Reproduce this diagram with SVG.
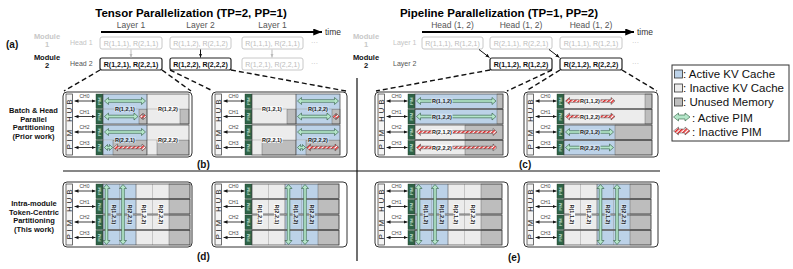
<svg xmlns="http://www.w3.org/2000/svg" width="793" height="269" viewBox="0 0 793 269">
<style>
text{font-family:"Liberation Sans",Arial,sans-serif}
.b{font-weight:bold}
.ml{font-size:5.5px;font-weight:bold;fill:#222;text-anchor:middle;dominant-baseline:central}
.bl{fill:#bcd2e8}
.lt{fill:#ececec}
.un{fill:#bdbdbd;stroke:#555;stroke-width:.4}
.og{fill:none;stroke:#444;stroke-width:.7}
.ga{fill:#b4e6c9;stroke:#2b5b3c;stroke-width:.6}
.ra{fill:url(#stripe);stroke:#444;stroke-width:.5}
.pn{fill:#fff;stroke:#333;stroke-width:1}
.lbB{fill:#cfe0f0}
.lbL{fill:#fafafa}
.bx1{fill:#fff;stroke:#c8c8c8;stroke-width:1}
.bx2{fill:#fff;stroke:#222;stroke-width:1.2}
.bt1{font-size:7px;fill:#bbb;text-anchor:middle}
.bt2{font-size:7px;fill:#111;font-weight:bold;text-anchor:middle}
.dash{fill:none;stroke:#111;stroke-width:1.4;stroke-dasharray:5 3}
.ch{font-size:5px;fill:#444;text-anchor:middle}
.pim{fill:#2f6447;stroke:#1c3a2a;stroke-width:.4}
.pt{font-size:4.3px;fill:#d9f2e2;text-anchor:middle;dominant-baseline:central}
.leg{font-size:11.5px;fill:#111}
.sm{font-size:7px}
.mod{font-size:7.5px;font-weight:bold;text-anchor:middle}
.tl{font-size:8.5px;fill:#555;text-anchor:middle}
.side{font-size:7.5px;font-weight:bold;fill:#111;text-anchor:middle}
.pl{font-size:10px;font-weight:bold;fill:#111}
</style>
<defs>
<pattern id="stripe" patternUnits="userSpaceOnUse" width="3" height="3" patternTransform="rotate(45)"><rect width="3" height="3" fill="#fff"/><rect width="1.6" height="3" fill="#e32626"/></pattern>
<marker id="ahs" viewBox="0 0 6 6" refX="6" refY="3" markerWidth="4" markerHeight="4" markerUnits="userSpaceOnUse" orient="auto-start-reverse"><path d="M0,0.5 L6,3 L0,5.5 z" fill="#111"/></marker>
<marker id="ahg" viewBox="0 0 6 6" refX="6" refY="3" markerWidth="4" markerHeight="4" markerUnits="userSpaceOnUse" orient="auto-start-reverse"><path d="M0,0.5 L6,3 L0,5.5 z" fill="#bbb"/></marker>
<marker id="aht" viewBox="0 0 10 8" refX="10" refY="4" markerWidth="9" markerHeight="7" markerUnits="userSpaceOnUse" orient="auto"><path d="M0,0 L10,4 L0,8 z" fill="#000"/></marker>
<g id="frame">
<rect x="3" y="2" width="6.5" height="61" fill="#f4f4f4" stroke="#333" stroke-width=".7"/>
<text transform="translate(8.9,32.5) rotate(-90)" text-anchor="middle" font-size="8" fill="#222" textLength="50" lengthAdjust="spacing">PIM HUB</text>
<line x1="11.5" y1="9" x2="32.5" y2="9" stroke="#111" stroke-width=".8" marker-start="url(#ahs)" marker-end="url(#ahs)"/>
<line x1="11.5" y1="24.5" x2="32.5" y2="24.5" stroke="#111" stroke-width=".8" marker-start="url(#ahs)" marker-end="url(#ahs)"/>
<line x1="11.5" y1="40" x2="32.5" y2="40" stroke="#111" stroke-width=".8" marker-start="url(#ahs)" marker-end="url(#ahs)"/>
<line x1="11.5" y1="55.5" x2="32.5" y2="55.5" stroke="#111" stroke-width=".8" marker-start="url(#ahs)" marker-end="url(#ahs)"/>
<text class="ch" x="21.5" y="6.3">CH0</text>
<text class="ch" x="21.5" y="21.8">CH1</text>
<text class="ch" x="21.5" y="37.3">CH2</text>
<text class="ch" x="21.5" y="52.8">CH3</text>
<rect class="pim" x="33" y="2" width="7" height="14.5"/>
<rect class="pim" x="33" y="17.5" width="7" height="14.5"/>
<rect class="pim" x="33" y="33" width="7" height="14.5"/>
<rect class="pim" x="33" y="48.5" width="7" height="14.5"/>
<text class="pt" transform="translate(36.5,9.25) rotate(-90)">PIM</text>
<text class="pt" transform="translate(36.5,24.75) rotate(-90)">PIM</text>
<text class="pt" transform="translate(36.5,40.25) rotate(-90)">PIM</text>
<text class="pt" transform="translate(36.5,55.75) rotate(-90)">PIM</text>
</g>
<g id="rowA"><rect class="bl" width="33" height="14.5"/><rect class="lt" x="33" width="33" height="14.5"/><rect class="un" x="66" width="21" height="14.5"/><path d="M16.5,0V14.5M49.5,0V14.5" stroke="#8a8a8a" stroke-width=".4"/><path d="M33,0V14.5" stroke="#555" stroke-width=".6"/><rect class="og" width="87" height="14.5"/></g>
<g id="rowB"><rect class="lt" width="33" height="14.5"/><rect class="bl" x="33" width="33" height="14.5"/><rect class="un" x="66" width="21" height="14.5"/><path d="M16.5,0V14.5M49.5,0V14.5" stroke="#8a8a8a" stroke-width=".4"/><path d="M33,0V14.5" stroke="#555" stroke-width=".6"/><rect class="og" width="87" height="14.5"/></g>
</defs>

<g id="titles">
<text x="191" y="16.5" class="b" font-size="11.5" text-anchor="middle">Tensor Parallelization (TP=2, PP=1)</text>
<text x="499" y="16.5" class="b" font-size="11.5" text-anchor="middle">Pipeline Parallelization (TP=1, PP=2)</text>
<text x="6" y="48" class="pl" font-size="11">(a)</text>
</g>

<g id="module-labels">
<text class="mod" x="47" y="38.5" fill="#c8c8c8">Module</text>
<text class="mod" x="47" y="47" fill="#c8c8c8">1</text>
<text class="mod" x="47" y="59.5" fill="#111">Module</text>
<text class="mod" x="47" y="67.5" fill="#111">2</text>
<text class="sm" x="70" y="44.5" fill="#c4c4c4">Head 1</text>
<text class="sm" x="70" y="65.5" fill="#555">Head 2</text>
<text class="mod" x="366" y="38.5" fill="#c8c8c8">Module</text>
<text class="mod" x="366" y="47" fill="#c8c8c8">1</text>
<text class="mod" x="366" y="59.5" fill="#111">Module</text>
<text class="mod" x="366" y="67.5" fill="#111">2</text>
<text class="sm" x="393" y="44.5" fill="#c4c4c4">Layer 1</text>
<text class="sm" x="393" y="65.5" fill="#555">Layer 2</text>
</g>

<g id="timeline-labels">
<text class="tl" x="131" y="28">Layer 1</text>
<text class="tl" x="200.5" y="28">Layer 2</text>
<text class="tl" x="272.5" y="28">Layer 1</text>
<text x="325" y="34.5" font-size="8.5" fill="#333">time</text>
<text class="tl" x="452.5" y="27.5" font-size="8">Head (1, 2)</text>
<text class="tl" x="521" y="27.5" font-size="8">Head (1, 2)</text>
<text class="tl" x="591" y="27.5" font-size="8">Head (1, 2)</text>
<text x="637" y="34.5" font-size="8.5" fill="#333">time</text>
</g>

<g id="tp-boxes">
<rect class="bx1" x="100" y="37" width="62" height="12" rx="2"/><text class="bt1" x="131" y="45.5">R(1,1,1), R(2,1,1)</text>
<rect class="bx1" x="170" y="37" width="61" height="12" rx="2"/><text class="bt1" x="200.5" y="45.5">R(1,1,2), R(2,1,2)</text>
<rect class="bx1" x="242" y="37" width="61" height="12" rx="2"/><text class="bt1" x="272.5" y="45.5">R(1,1,1), R(2,1,1)</text>
<rect class="bx2" x="100" y="58" width="62" height="12" rx="2"/><text class="bt2" x="131" y="66.5">R(1,2,1), R(2,2,1)</text>
<rect class="bx2" x="170" y="58" width="61" height="12" rx="2"/><text class="bt2" x="200.5" y="66.5">R(1,2,2), R(2,2,2)</text>
<rect class="bx1" x="242" y="58" width="61" height="12" rx="2"/><text class="bt1" x="272.5" y="66.5">R(1,2,1), R(2,2,1)</text>
<text x="311" y="45" font-size="7" fill="#bbb">···</text>
<text x="311" y="66" font-size="7" fill="#bbb">···</text>
</g>

<g id="pp-boxes">
<rect class="bx1" x="422" y="37" width="61" height="12" rx="2"/><text class="bt1" x="452.5" y="45.5">R(1,1,1), R(1,2,1)</text>
<rect class="bx1" x="490" y="37" width="62" height="12" rx="2"/><text class="bt1" x="521" y="45.5">R(2,1,1), R(2,2,1)</text>
<rect class="bx1" x="560" y="37" width="62" height="12" rx="2"/><text class="bt1" x="591" y="45.5">R(1,1,1), R(1,2,1)</text>
<rect class="bx2" x="490" y="58" width="62" height="12" rx="2"/><text class="bt2" x="521" y="66.5">R(1,1,2), R(1,2,2)</text>
<rect class="bx2" x="560" y="58" width="62" height="12" rx="2"/><text class="bt2" x="591" y="66.5">R(2,1,2), R(2,2,2)</text>
<text x="632" y="45" font-size="7" fill="#bbb">···</text>
<text x="632" y="66" font-size="7" fill="#bbb">···</text>
</g>

<g id="connectors">
<line x1="101" y1="32" x2="322" y2="32" stroke="#000" stroke-width="2" marker-end="url(#aht)"/>
<line x1="422" y1="32" x2="634" y2="32" stroke="#000" stroke-width="2" marker-end="url(#aht)"/>
<line x1="131" y1="49.5" x2="131" y2="57.5" stroke="#bbb" stroke-width="1" marker-end="url(#ahg)"/>
<line x1="200.5" y1="49.5" x2="200.5" y2="57.5" stroke="#111" stroke-width="1" marker-end="url(#ahs)"/>
<line x1="272" y1="49.5" x2="272" y2="57.5" stroke="#bbb" stroke-width="1" marker-end="url(#ahg)"/>
<line x1="479" y1="49.5" x2="489.5" y2="57.5" stroke="#111" stroke-width="1" marker-end="url(#ahs)"/>
<line x1="549" y1="49.5" x2="559.5" y2="57.5" stroke="#111" stroke-width="1" marker-end="url(#ahs)"/>
<path class="dash" d="M100,70 L64,91 M162,70 L191,91 M170,70 L213,91 M231,70 L346,91 M490,70 L376,91 M552,70 L507,91 M560,70 L526,91 M622,70 L657,91"/>
</g>

<g id="dividers">
<line x1="357" y1="78" x2="357" y2="261" stroke="#111" stroke-width="1.2"/>
<line x1="63" y1="171" x2="660" y2="171" stroke="#111" stroke-width="1.2"/>
</g>

<g id="side-labels">
<text class="side" x="33.5" y="113">Batch &amp; Head</text>
<text class="side" x="33.5" y="121.5">Parallel</text>
<text class="side" x="33.5" y="130">Partitioning</text>
<text class="side" x="33.5" y="138.5">(Prior work)</text>
<text class="side" x="34" y="206">Intra-module</text>
<text class="side" x="34" y="214.5">Token-Centric</text>
<text class="side" x="34" y="223">Partitioning</text>
<text class="side" x="34" y="231.5">(This work)</text>
<text class="pl" x="197" y="168">(b)</text>
<text class="pl" x="519" y="168">(c)</text>
<text class="pl" x="197" y="260">(d)</text>
<text class="pl" x="508" y="261">(e)</text>
</g>

<g id="panel-b1">
<rect class="pn" x="63" y="92" width="129" height="65" rx="4"/>
<use href="#frame" x="63" y="92"/>
<rect class="bl" x="103" y="94" width="44" height="30"/>
<rect class="lt" x="147" y="94" width="42" height="30"/>
<rect class="un" x="139" y="109.5" width="8" height="14.5"/>
<rect class="un" x="180" y="109.5" width="9" height="14.5"/>
<line x1="103" y1="109" x2="189" y2="109" stroke="#999" stroke-width=".5"/>
<line x1="147" y1="94" x2="147" y2="124" stroke="#444" stroke-width=".7"/>
<rect class="og" x="103" y="94" width="86" height="30"/>
<rect class="bl" x="103" y="125" width="44" height="15.5"/>
<rect class="bl" x="103" y="140.5" width="10" height="14.5"/>
<rect class="un" x="113" y="140.5" width="34" height="14.5"/>
<rect class="lt" x="147" y="125" width="42" height="15.5"/>
<rect class="lt" x="147" y="140.5" width="10" height="14.5"/>
<rect class="un" x="157" y="140.5" width="32" height="14.5"/>
<line x1="103" y1="140" x2="189" y2="140" stroke="#999" stroke-width=".5"/>
<line x1="147" y1="125" x2="147" y2="155" stroke="#444" stroke-width=".7"/>
<rect class="og" x="103" y="125" width="86" height="30"/>
<path class="ga" d="M104.5,101 L108.5,97.5 V99.7 H141.5 V97.5 L145.5,101 L141.5,104.5 V102.3 H108.5 V104.5 Z"/>
<path class="ga" d="M104.5,116.5 L108.5,113 V115.2 H134 V113 L138,116.5 L134,120 V117.8 H108.5 V120 Z"/>
<path class="ra" d="M139.5,116.5 L142.5,113.5 V115.5 H143.5 V113.5 L146.5,116.5 L143.5,119.5 V117.5 H142.5 V119.5 Z"/>
<path class="ga" d="M104.5,132 L108.5,128.5 V130.7 H141.5 V128.5 L145.5,132 L141.5,135.5 V133.3 H108.5 V135.5 Z"/>
<path class="ga" d="M104.5,147.5 L107.5,144.5 V146.3 H109.5 V144.5 L112.5,147.5 L109.5,150.5 V148.7 H107.5 V150.5 Z"/>
<path class="ra" d="M113.5,147.5 L117.5,144 V146.2 H142 V144 L146,147.5 L142,151 V148.8 H117.5 V151 Z"/>
<rect class="lbB" x="114.5" y="106.2" width="21" height="5.6"/><text class="ml" x="125" y="109">R(1,2,1)</text>
<rect class="lbL" x="157.5" y="106.2" width="21" height="5.6"/><text class="ml" x="168" y="109">R(1,2,2)</text>
<rect class="lbB" x="114.5" y="137.2" width="21" height="5.6"/><text class="ml" x="125" y="140">R(2,2,1)</text>
<rect class="lbL" x="157.5" y="137.2" width="21" height="5.6"/><text class="ml" x="168" y="140">R(2,2,2)</text>
</g>

<g id="panel-b2">
<rect class="pn" x="212" y="92" width="135" height="65" rx="4"/>
<use href="#frame" x="212" y="92"/>
<rect class="lt" x="252" y="94" width="44" height="30"/>
<rect class="bl" x="296" y="94" width="44" height="30"/>
<rect class="un" x="287" y="109.5" width="9" height="14.5"/>
<rect class="un" x="332" y="109.5" width="8" height="14.5"/>
<line x1="252" y1="109" x2="340" y2="109" stroke="#999" stroke-width=".5"/>
<line x1="296" y1="94" x2="296" y2="124" stroke="#444" stroke-width=".7"/>
<rect class="og" x="252" y="94" width="88" height="30"/>
<rect class="lt" x="252" y="125" width="44" height="15.5"/>
<rect class="lt" x="252" y="140.5" width="10" height="14.5"/>
<rect class="un" x="262" y="140.5" width="34" height="14.5"/>
<rect class="bl" x="296" y="125" width="44" height="15.5"/>
<rect class="bl" x="296" y="140.5" width="10" height="14.5"/>
<rect class="un" x="306" y="140.5" width="34" height="14.5"/>
<line x1="252" y1="140" x2="340" y2="140" stroke="#999" stroke-width=".5"/>
<line x1="296" y1="125" x2="296" y2="155" stroke="#444" stroke-width=".7"/>
<rect class="og" x="252" y="125" width="88" height="30"/>
<path class="ga" d="M297.5,101 L301.5,97.5 V99.7 H334.5 V97.5 L338.5,101 L334.5,104.5 V102.3 H301.5 V104.5 Z"/>
<path class="ga" d="M297.5,116.5 L301.5,113 V115.2 H327 V113 L331,116.5 L327,120 V117.8 H301.5 V120 Z"/>
<path class="ra" d="M332.5,116.5 L335.5,113.5 V115.5 H336.5 V113.5 L339.5,116.5 L336.5,119.5 V117.5 H335.5 V119.5 Z"/>
<path class="ga" d="M297.5,132 L301.5,128.5 V130.7 H334.5 V128.5 L338.5,132 L334.5,135.5 V133.3 H301.5 V135.5 Z"/>
<path class="ga" d="M297.5,147.5 L300.5,144.5 V146.3 H302.5 V144.5 L305.5,147.5 L302.5,150.5 V148.7 H300.5 V150.5 Z"/>
<path class="ra" d="M306.5,147.5 L310.5,144 V146.2 H335 V144 L339,147.5 L335,151 V148.8 H310.5 V151 Z"/>
<rect class="lbL" x="261.5" y="106.2" width="21" height="5.6"/><text class="ml" x="272" y="109">R(1,2,1)</text>
<rect class="lbB" x="307.5" y="106.2" width="21" height="5.6"/><text class="ml" x="318" y="109">R(1,2,2)</text>
<rect class="lbL" x="261.5" y="137.2" width="21" height="5.6"/><text class="ml" x="272" y="140">R(2,2,1)</text>
<rect class="lbB" x="307.5" y="137.2" width="21" height="5.6"/><text class="ml" x="318" y="140">R(2,2,2)</text>
</g>

<g id="panel-c1">
<rect class="pn" x="375" y="92" width="133" height="65" rx="4"/>
<use href="#frame" x="375" y="92"/>
<rect class="bl" x="415" y="94" width="82" height="14.5"/><rect class="un" x="497" y="94" width="6" height="14.5"/><rect class="og" x="415" y="94" width="88" height="14.5"/>
<rect class="bl" x="415" y="109.5" width="82" height="14.5"/><rect class="un" x="497" y="109.5" width="6" height="14.5"/><rect class="og" x="415" y="109.5" width="88" height="14.5"/>
<rect class="lt" x="415" y="125" width="50" height="14.5"/><rect class="un" x="465" y="125" width="38" height="14.5"/><rect class="og" x="415" y="125" width="88" height="14.5"/>
<rect class="lt" x="415" y="140.5" width="50" height="14.5"/><rect class="un" x="465" y="140.5" width="38" height="14.5"/><rect class="og" x="415" y="140.5" width="88" height="14.5"/>
<path class="ga" d="M416.5,101 L420.5,97.5 V99.7 H492 V97.5 L496,101 L492,104.5 V102.3 H420.5 V104.5 Z"/>
<path class="ga" d="M416.5,116.5 L420.5,113 V115.2 H492 V113 L496,116.5 L492,120 V117.8 H420.5 V120 Z"/>
<path class="ra" d="M416.5,132 L420.5,128.5 V130.7 H493 V128.5 L497,132 L493,135.5 V133.3 H420.5 V135.5 Z"/>
<path class="ra" d="M416.5,147.5 L420.5,144 V146.2 H493 V144 L497,147.5 L493,151 V148.8 H420.5 V151 Z"/>
<rect class="lbB" x="431.5" y="98.2" width="21" height="5.6"/><text class="ml" x="442" y="101">R(1,1,2)</text>
<rect class="lbB" x="431.5" y="113.7" width="21" height="5.6"/><text class="ml" x="442" y="116.5">R(1,2,2)</text>
<rect class="lbL" x="431.5" y="129.2" width="21" height="5.6"/><text class="ml" x="442" y="132">R(2,1,2)</text>
<rect class="lbL" x="431.5" y="144.7" width="21" height="5.6"/><text class="ml" x="442" y="147.5">R(2,2,2)</text>
</g>

<g id="panel-c2">
<rect class="pn" x="524" y="92" width="134" height="65" rx="4"/>
<use href="#frame" x="524" y="92"/>
<rect class="lt" x="564" y="94" width="81" height="14.5"/><rect class="un" x="645" y="94" width="7" height="14.5"/><rect class="og" x="564" y="94" width="88" height="14.5"/>
<rect class="lt" x="564" y="109.5" width="81" height="14.5"/><rect class="un" x="645" y="109.5" width="7" height="14.5"/><rect class="og" x="564" y="109.5" width="88" height="14.5"/>
<rect class="bl" x="564" y="125" width="51" height="14.5"/><rect class="un" x="615" y="125" width="37" height="14.5"/><rect class="og" x="564" y="125" width="88" height="14.5"/>
<rect class="bl" x="564" y="140.5" width="51" height="14.5"/><rect class="un" x="615" y="140.5" width="37" height="14.5"/><rect class="og" x="564" y="140.5" width="88" height="14.5"/>
<path class="ra" d="M565.5,101 L569.5,97.5 V99.7 H611 V97.5 L615,101 L611,104.5 V102.3 H569.5 V104.5 Z"/>
<path class="ra" d="M565.5,116.5 L569.5,113 V115.2 H611 V113 L615,116.5 L611,120 V117.8 H569.5 V120 Z"/>
<path class="ga" d="M565.5,132 L569.5,128.5 V130.7 H609.5 V128.5 L613.5,132 L609.5,135.5 V133.3 H569.5 V135.5 Z"/>
<path class="ga" d="M565.5,147.5 L569.5,144 V146.2 H609.5 V144 L613.5,147.5 L609.5,151 V148.8 H569.5 V151 Z"/>
<rect class="lbL" x="579.5" y="98.2" width="21" height="5.6"/><text class="ml" x="590" y="101">R(1,1,2)</text>
<rect class="lbL" x="579.5" y="113.7" width="21" height="5.6"/><text class="ml" x="590" y="116.5">R(1,2,2)</text>
<rect class="lbB" x="579.5" y="129.2" width="21" height="5.6"/><text class="ml" x="590" y="132">R(2,1,2)</text>
<rect class="lbB" x="579.5" y="144.7" width="21" height="5.6"/><text class="ml" x="590" y="147.5">R(2,2,2)</text>
</g>

<g id="panel-d1">
<rect class="pn" x="63" y="182" width="129" height="65" rx="4"/>
<use href="#frame" x="63" y="182"/>
<use href="#rowA" x="103" y="184"/><use href="#rowA" x="103" y="199.5"/><use href="#rowA" x="103" y="215"/><use href="#rowA" x="103" y="230.5"/>
<path class="ga" d="M106.5,184.5 L110,188.5 H107.8 V240.5 H110 L106.5,244.5 L103,240.5 H105.2 V188.5 H103 Z"/>
<path class="ga" d="M123,184.5 L126.5,188.5 H124.3 V240.5 H126.5 L123,244.5 L119.5,240.5 H121.7 V188.5 H119.5 Z"/>
<g transform="translate(113.5,214.5) rotate(90)"><rect class="lbB" x="-10.5" y="-2.8" width="21" height="5.6"/><text class="ml">R(1,2,1)</text></g>
<g transform="translate(130,214.5) rotate(90)"><rect class="lbB" x="-10.5" y="-2.8" width="21" height="5.6"/><text class="ml">R(2,2,1)</text></g>
<g transform="translate(144.25,214.5) rotate(90)"><rect class="lbL" x="-10.5" y="-2.8" width="21" height="5.6"/><text class="ml">R(1,2,2)</text></g>
<g transform="translate(160.75,214.5) rotate(90)"><rect class="lbL" x="-10.5" y="-2.8" width="21" height="5.6"/><text class="ml">R(2,2,2)</text></g>
</g>

<g id="panel-d2">
<rect class="pn" x="212" y="182" width="135" height="65" rx="4"/>
<use href="#frame" x="212" y="182"/>
<use href="#rowB" x="252" y="184"/><use href="#rowB" x="252" y="199.5"/><use href="#rowB" x="252" y="215"/><use href="#rowB" x="252" y="230.5"/>
<path class="ga" d="M288.5,184.5 L292,188.5 H289.8 V240.5 H292 L288.5,244.5 L285,240.5 H287.2 V188.5 H285 Z"/>
<path class="ga" d="M305,184.5 L308.5,188.5 H306.3 V240.5 H308.5 L305,244.5 L301.5,240.5 H303.7 V188.5 H301.5 Z"/>
<g transform="translate(260.25,214.5) rotate(90)"><rect class="lbL" x="-10.5" y="-2.8" width="21" height="5.6"/><text class="ml">R(1,2,1)</text></g>
<g transform="translate(276.75,214.5) rotate(90)"><rect class="lbL" x="-10.5" y="-2.8" width="21" height="5.6"/><text class="ml">R(2,2,1)</text></g>
<g transform="translate(295.5,214.5) rotate(90)"><rect class="lbB" x="-10.5" y="-2.8" width="21" height="5.6"/><text class="ml">R(1,2,2)</text></g>
<g transform="translate(312,214.5) rotate(90)"><rect class="lbB" x="-10.5" y="-2.8" width="21" height="5.6"/><text class="ml">R(2,2,2)</text></g>
</g>

<g id="panel-e1">
<rect class="pn" x="375" y="182" width="133" height="65" rx="4"/>
<use href="#frame" x="375" y="182"/>
<use href="#rowA" x="415" y="184"/><use href="#rowA" x="415" y="199.5"/><use href="#rowA" x="415" y="215"/><use href="#rowA" x="415" y="230.5"/>
<path class="ga" d="M418.5,184.5 L422,188.5 H419.8 V240.5 H422 L418.5,244.5 L415,240.5 H417.2 V188.5 H415 Z"/>
<path class="ga" d="M435,184.5 L438.5,188.5 H436.3 V240.5 H438.5 L435,244.5 L431.5,240.5 H433.7 V188.5 H431.5 Z"/>
<g transform="translate(425.5,214.5) rotate(90)"><rect class="lbB" x="-10.5" y="-2.8" width="21" height="5.6"/><text class="ml">R(1,1,2)</text></g>
<g transform="translate(442,214.5) rotate(90)"><rect class="lbB" x="-10.5" y="-2.8" width="21" height="5.6"/><text class="ml">R(1,2,2)</text></g>
<g transform="translate(456.25,214.5) rotate(90)"><rect class="lbL" x="-10.5" y="-2.8" width="21" height="5.6"/><text class="ml">R(2,1,2)</text></g>
<g transform="translate(472.75,214.5) rotate(90)"><rect class="lbL" x="-10.5" y="-2.8" width="21" height="5.6"/><text class="ml">R(2,2,2)</text></g>
</g>

<g id="panel-e2">
<rect class="pn" x="524" y="182" width="134" height="65" rx="4"/>
<use href="#frame" x="524" y="182"/>
<use href="#rowB" x="564" y="184"/><use href="#rowB" x="564" y="199.5"/><use href="#rowB" x="564" y="215"/><use href="#rowB" x="564" y="230.5"/>
<path class="ga" d="M600.5,184.5 L604,188.5 H601.8 V240.5 H604 L600.5,244.5 L597,240.5 H599.2 V188.5 H597 Z"/>
<path class="ga" d="M617,184.5 L620.5,188.5 H618.3 V240.5 H620.5 L617,244.5 L613.5,240.5 H615.7 V188.5 H613.5 Z"/>
<g transform="translate(572.25,214.5) rotate(90)"><rect class="lbL" x="-10.5" y="-2.8" width="21" height="5.6"/><text class="ml">R(1,1,2)</text></g>
<g transform="translate(588.75,214.5) rotate(90)"><rect class="lbL" x="-10.5" y="-2.8" width="21" height="5.6"/><text class="ml">R(1,2,2)</text></g>
<g transform="translate(607.5,214.5) rotate(90)"><rect class="lbB" x="-10.5" y="-2.8" width="21" height="5.6"/><text class="ml">R(2,1,2)</text></g>
<g transform="translate(624,214.5) rotate(90)"><rect class="lbB" x="-10.5" y="-2.8" width="21" height="5.6"/><text class="ml">R(2,2,2)</text></g>
</g>

<g id="legend">
<rect x="672" y="65" width="117" height="76" fill="#fff" stroke="#333" stroke-width="1"/>
<rect class="bl" x="674.5" y="70" width="8" height="8" stroke="#333" stroke-width=".8"/>
<text class="leg" x="683" y="78">: Active KV Cache</text>
<rect class="lt" x="674.5" y="84" width="8" height="8" stroke="#333" stroke-width=".8"/>
<text class="leg" x="683" y="92">: Inactive KV Cache</text>
<rect x="674.5" y="98" width="8" height="8" fill="#bdbdbd" stroke="#333" stroke-width=".8"/>
<text class="leg" x="683" y="106">: Unused Memory</text>
<path class="ga" d="M673.5,117 L678.5,113 V115 H685 V113 L690,117 L685,121 V119 H678.5 V121 Z"/>
<text class="leg" x="692" y="121.5">: Active PIM</text>
<path class="ra" d="M673.5,131 L678.5,127 V129 H685 V127 L690,131 L685,135 V133 H678.5 V135 Z"/>
<text class="leg" x="692" y="135.5">: Inactive PIM</text>
</g>
</svg>
